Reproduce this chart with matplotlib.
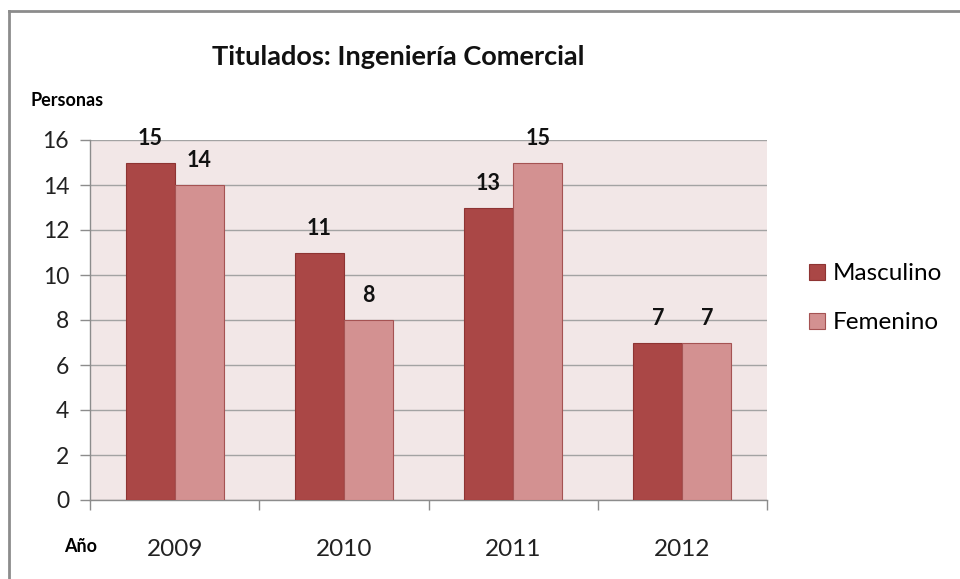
import numpy as np
import matplotlib.pyplot as plt
from matplotlib.lines import Line2D

years = ['2009', '2010', '2011', '2012']
masculino = [15, 11, 13, 7]
femenino = [14, 8, 15, 7]

plt.rcParams['font.family'] = ['Lato', 'DejaVu Sans']

fig = plt.figure(figsize=(9.6, 5.79), dpi=100)
ax = fig.add_axes([90/960, 79/579, 677/960, 360/579])
ax.set_facecolor('#F2E7E7')

x = np.arange(len(years))
w = 0.29
b1 = ax.bar(x - w/2, masculino, w, color='#AA4746', edgecolor='#8E3433', linewidth=0.8, label='Masculino', zorder=3)
b2 = ax.bar(x + w/2, femenino, w, color='#D39191', edgecolor='#A55353', linewidth=0.8, label='Femenino', zorder=3)
for bars in (b1, b2):
    ax.bar_label(bars, padding=10, fontsize=15.5, fontweight='bold', color='#111111')

ax.set_xlim(-0.5, len(years) - 0.5)
ax.set_ylim(0, 16)
ax.set_yticks(range(0, 17, 2))
ax.yaxis.grid(True, color='#A3A3A3', linewidth=1, zorder=0)
ax.set_axisbelow(True)

# tick marks on category boundaries, labels centred
ax.set_xticks(np.arange(-0.5, len(years), 1))
ax.set_xticklabels([])
ax.set_xticks(x, minor=True)
ax.set_xticklabels(years, minor=True)
ax.tick_params(axis='x', which='major', length=7, color='#8C8C8C', width=1)
ax.tick_params(axis='x', which='minor', length=0, pad=28, labelsize=17.5, labelcolor='#222222')
ax.tick_params(axis='y', length=7, color='#8C8C8C', width=1, pad=8, labelsize=16.5, labelcolor='#222222')

for s in ['top', 'right']:
    ax.spines[s].set_visible(False)
for s in ['left', 'bottom']:
    ax.spines[s].set_color('#8C8C8C')
    ax.spines[s].set_linewidth(1)

fig.text(398/960, 1 - 57/579, 'Titulados: Ingeniería Comercial', ha='center', va='center',
         fontsize=19.5, fontweight='bold', color='#111111')
fig.text(30/960, 1 - 101/579, 'Personas', ha='left', va='center', fontsize=13, fontweight='bold')
fig.text(64/960, 1 - 546/579, 'Año', ha='left', va='center', fontsize=13, fontweight='bold')

ax.legend(loc='center left', bbox_to_anchor=(1.03, 0.56), frameon=False, fontsize=17.5,
          handlelength=0.65, handleheight=0.65, handletextpad=0.3, labelspacing=1.15)

# outer chart border (top and left)
fig.add_artist(Line2D([9/960, 1], [1 - 11/579, 1 - 11/579], transform=fig.transFigure, color='#8C8C8C', linewidth=2))
fig.add_artist(Line2D([9/960, 9/960], [0, 1 - 11/579], transform=fig.transFigure, color='#8C8C8C', linewidth=2))

fig.savefig('out.png', dpi=100)
